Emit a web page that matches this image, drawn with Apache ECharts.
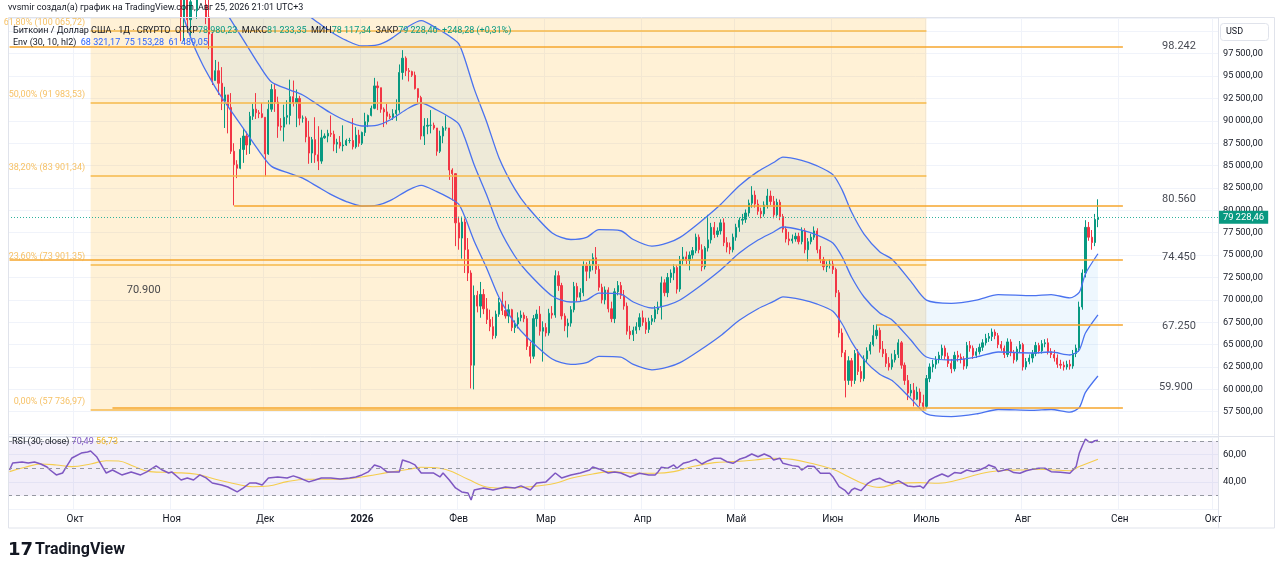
<!DOCTYPE html>
<html><head><meta charset="utf-8">
<script src="https://cdn.jsdelivr.net/npm/echarts@6/dist/echarts.min.js"></script>
<style>html,body{margin:0;padding:0;background:#fff;}#chart{width:1280px;height:573px;}</style>
</head><body><div id="chart"></div>
<script>
// ---------- axis range & tick labels ----------
const AXIS_START = '2025-09-10';
const AXIS_END = '2026-10-02';
const monthNames = ['2026','Фев','Мар','Апр','Май','Июн','Июль','Авг','Сен','Окт','Ноя','Дек'];

// ---------- daily candles (USD thousands) [open, close, low, high], consecutive days from candleStart ----------
const candleStart = '2025-11-03';
const candles = [
// Nov 3-30
[110.6,106.5,105.3,110.8],[106.5,101.5,98.9,106.6],[101.5,103.9,98.9,104.5],[103.9,101.3,100.3,104.2],[101.3,103.3,99.3,104.0],
[103.3,102.3,101.5,103.6],[102.3,104.7,101.4,105.0],[104.7,105.9,104.3,106.6],[105.9,103.0,102.5,107.4],[103.0,101.6,100.8,105.3],
[101.6,99.7,98.0,104.0],[99.7,94.5,94.0,99.9],[94.5,95.6,94.5,96.8],[95.6,94.2,92.9,96.6],[94.2,92.2,91.2,96.0],
[92.2,92.9,89.2,93.8],[92.9,91.5,88.6,92.9],[91.5,86.6,86.3,93.1],[86.6,85.1,80.56,87.5],[85.1,84.7,83.6,85.6],
[84.7,86.8,84.6,88.1],[86.8,88.3,85.3,89.2],[88.3,87.3,86.2,88.8],[87.3,90.5,86.3,91.0],[90.5,91.3,90.1,91.9],
[91.3,90.9,90.2,93.1],[90.9,90.8,90.3,91.2],[90.8,90.4,90.3,92.0],
// Dec
[90.4,86.3,83.8,90.4],[86.3,91.3,86.2,92.3],[91.3,93.5,91.0,94.1],[93.5,92.1,91.0,94.1],[92.1,89.4,88.1,92.7],
[89.4,89.3,88.9,90.3],[89.3,90.4,87.7,91.8],[90.4,90.6,89.6,92.3],[90.6,92.7,89.6,94.6],[92.7,92.0,91.6,94.5],
[92.0,92.5,89.3,93.5],[92.5,90.3,89.5,92.8],[90.3,90.3,89.8,90.6],[90.3,88.2,87.6,90.5],[88.2,86.4,85.2,90.0],
[86.4,87.9,85.3,88.2],[87.9,86.2,85.3,90.4],[86.2,85.5,84.5,89.4],[85.5,88.1,85.2,89.0],[88.1,88.3,88.0,88.6],
[88.3,88.6,87.6,89.0],[88.6,88.5,88.2,90.6],[88.5,87.4,86.6,88.9],[87.4,87.6,86.4,88.0],[87.6,87.2,86.9,88.3],
[87.2,87.3,86.6,89.5],[87.3,87.8,87.2,88.0],[87.8,87.8,87.5,88.1],[87.8,87.1,86.8,90.3],[87.1,88.4,86.9,89.3],
[88.4,87.5,87.1,89.0],
// Jan
[87.5,88.7,87.3,88.8],[88.7,89.9,88.3,90.9],[89.9,90.6,89.3,90.7],[90.6,91.4,90.5,91.7],[91.4,93.9,91.3,94.8],
[93.9,93.7,91.2,94.4],[93.7,91.3,90.9,93.7],[91.3,91.0,89.3,91.5],[91.0,90.5,89.6,91.9],[90.5,90.4,90.2,90.8],
[90.4,90.8,90.1,91.3],[90.8,91.2,90.0,92.4],[91.2,95.4,90.9,96.3],[95.4,97.0,94.6,97.9],[97.0,95.6,95.0,97.2],
[95.6,95.5,94.4,95.9],[95.5,95.1,94.9,95.6],[95.1,93.6,93.5,95.5],[93.6,92.6,91.9,93.6],[92.6,88.3,87.9,92.8],
[88.3,89.4,87.3,90.3],[89.4,89.5,88.5,90.3],[89.5,89.5,88.6,91.2],[89.5,89.2,89.0,89.8],[89.2,86.6,86.1,89.2],
[86.6,88.3,86.4,88.9],[88.3,89.2,87.5,89.4],[89.2,89.2,88.9,90.6],[89.2,84.5,83.4,89.2],[84.5,84.1,81.1,84.7],
[84.1,78.6,76.0,84.1],
// Feb
[78.6,76.9,75.6,79.3],[76.9,78.7,74.6,79.3],[78.7,75.6,73.0,79.1],[75.6,73.0,72.1,76.9],[73.0,62.7,60.1,73.3],
[62.7,70.5,60.0,71.6],[70.5,69.3,68.6,71.0],[69.3,70.6,68.0,72.0],[70.6,69.0,68.4,71.2],[69.0,67.8,67.3,70.2],
[67.8,67.0,66.5,68.9],[67.0,66.0,65.6,68.1],[66.0,68.4,65.7,68.8],[68.4,69.7,68.1,70.2],[69.7,68.8,68.3,70.9],
[68.8,68.2,67.9,69.9],[68.2,68.9,67.4,69.5],[68.9,66.9,66.5,69.0],[66.9,67.3,66.3,67.7],[67.3,68.0,66.8,68.6],
[68.0,68.3,67.6,68.8],[68.3,67.9,67.5,68.6],[67.9,64.8,64.4,68.2],[64.8,63.7,62.9,65.3],[63.7,67.9,63.4,68.3],
[67.9,68.4,67.0,68.9],[68.4,66.5,66.0,69.3],[66.5,66.9,63.1,67.6],
// Mar
[66.9,66.3,65.9,67.4],[66.3,68.5,66.0,69.0],[68.5,68.3,67.9,69.3],[68.3,72.7,68.0,73.3],[72.7,71.6,71.0,73.2],
[71.6,68.2,67.8,71.9],[68.2,67.1,66.5,68.5],[67.1,67.4,65.8,67.9],[67.4,68.9,67.0,69.3],[68.9,71.5,68.6,72.0],
[71.5,70.3,69.8,71.9],[70.3,70.8,69.9,71.3],[70.8,73.8,70.4,74.3],[73.8,73.2,72.1,74.2],[73.2,73.9,72.4,74.4],
[73.9,74.7,73.3,75.2],[74.7,73.4,72.9,75.9],[73.4,71.4,71.0,74.0],[71.4,70.0,69.6,71.8],[70.0,71.1,69.5,71.5],
[71.1,69.0,68.6,71.4],[69.0,67.9,67.5,69.8],[67.9,70.9,67.4,71.3],[70.9,71.6,70.5,72.1],[71.6,70.5,70.1,72.0],
[70.5,69.3,68.9,71.1],[69.3,66.5,66.1,69.7],[66.5,66.1,65.6,67.1],[66.1,66.6,65.4,67.0],[66.6,67.0,66.2,67.5],
[67.0,68.0,66.6,68.5],
// Apr
[68.0,67.5,67.1,68.8],[67.5,66.7,66.2,68.0],[66.7,67.6,66.3,68.0],[67.6,67.9,67.2,68.3],[67.9,68.9,67.5,69.3],
[68.9,69.2,68.4,69.8],[69.2,71.9,67.8,72.6],[71.9,70.8,70.4,72.3],[70.8,72.5,70.3,73.0],[72.5,73.0,71.9,73.4],
[73.0,73.6,72.2,74.0],[73.6,71.2,70.7,73.9],[71.2,74.4,70.9,74.9],[74.4,74.8,73.9,75.9],[74.8,74.4,74.0,75.4],
[74.4,75.0,73.3,75.4],[75.0,75.5,74.6,75.9],[75.5,77.0,75.2,77.4],[77.0,75.6,75.2,77.3],[75.6,73.7,73.2,76.2],
[73.7,75.8,73.4,76.0],[75.8,76.7,75.4,79.5],[76.7,78.1,76.3,78.6],[78.1,77.3,76.9,78.7],[77.3,77.7,77.0,78.1],
[77.7,78.6,77.3,79.0],[78.6,76.4,76.0,79.1],[76.4,75.9,75.3,77.0],[75.9,75.6,75.1,76.4],[75.6,77.0,75.3,77.4],
// May
[77.0,78.1,76.6,78.5],[78.1,78.9,77.6,79.2],[78.9,79.0,78.4,79.6],[79.0,79.7,78.6,80.1],[79.7,80.8,79.3,81.2],
[80.8,81.7,80.3,82.7],[81.7,80.7,80.3,82.2],[80.7,79.9,79.5,81.2],[79.9,79.6,79.1,80.3],[79.6,80.6,79.3,81.0],
[80.6,81.6,80.2,82.4],[81.6,81.0,80.6,82.2],[81.0,79.5,79.1,81.6],[79.5,80.9,79.3,81.3],[80.9,79.3,78.9,81.2],
[79.3,77.9,77.5,79.6],[77.9,76.8,76.4,78.2],[76.8,76.6,76.1,77.6],[76.6,76.8,76.3,77.3],[76.8,77.1,76.5,77.5],
[77.1,76.5,76.2,77.5],[76.5,77.7,76.2,78.1],[77.7,75.6,75.2,78.0],[75.6,76.5,74.3,76.9],[76.5,77.0,76.2,77.4],
[77.0,77.7,76.7,78.2],[77.7,75.6,75.2,78.0],[75.6,74.5,74.1,76.0],[74.5,73.7,73.3,74.8],[73.7,73.9,73.1,74.3],
[73.9,74.0,73.5,74.5],
// Jun
[74.0,73.4,72.9,74.4],[73.4,70.8,70.3,73.6],[70.8,66.3,65.8,71.1],[66.3,64.1,63.6,66.8],[64.1,61.0,59.1,64.4],
[61.0,63.2,60.5,63.7],[63.2,61.0,60.3,63.5],[61.0,64.0,60.6,64.4],[64.0,62.0,61.6,64.5],[62.0,61.2,60.8,62.6],
[61.2,63.4,60.9,63.8],[63.4,64.3,63.0,64.7],[64.3,65.0,63.9,65.3],[65.0,66.0,64.8,67.2],[66.0,66.6,65.6,67.25],
[66.6,64.5,64.1,66.9],[64.5,64.0,63.6,65.4],[64.0,62.9,62.5,64.5],[62.9,62.5,62.1,63.6],[62.5,63.3,62.2,64.0],
[63.3,63.9,63.0,64.4],[63.9,65.2,63.5,65.6],[65.2,62.7,62.3,65.4],[62.7,61.0,60.5,63.0],[61.0,59.6,58.8,61.6],
[59.6,59.9,59.2,60.6],[59.9,58.9,58.1,60.7],[58.9,59.7,58.8,60.3],[59.7,58.5,58.1,60.1],[58.5,58.1,57.74,59.4],
// Jul
[58.1,61.2,57.9,61.6],[61.2,62.5,60.8,62.9],[62.5,62.8,61.9,63.3],[62.8,63.3,62.3,63.7],[63.3,63.8,62.9,64.2],
[63.8,64.6,63.4,65.0],[64.6,63.7,63.3,64.9],[63.7,62.9,62.5,64.1],[62.9,62.3,61.8,63.4],[62.3,63.8,62.0,64.2],
[63.8,63.6,63.1,64.3],[63.6,63.4,62.9,64.0],[63.4,62.6,62.2,63.7],[62.6,64.9,62.3,65.3],[64.9,64.6,64.2,65.4],
[64.6,63.8,63.4,64.9],[63.8,64.2,63.5,64.6],[64.2,64.7,63.9,65.1],[64.7,65.2,64.3,65.6],[65.2,65.7,64.9,66.2],
[65.7,65.9,65.3,66.3],[65.9,66.4,65.4,66.8],[66.4,66.0,65.6,66.7],[66.0,65.0,64.6,66.3],[65.0,64.6,64.3,65.4],
[64.6,63.9,63.5,64.9],[63.9,65.3,63.6,65.7],[65.3,64.1,63.7,65.6],[64.1,63.3,62.9,64.4],[63.3,64.5,63.1,64.8],
[64.5,65.0,64.1,65.4],
// Aug 1-25
[65.0,62.5,62.1,65.2],[62.5,63.1,62.2,63.5],[63.1,63.5,62.8,63.9],[63.5,64.0,63.0,64.4],[64.0,64.9,63.7,65.3],
[64.9,64.3,64.0,65.2],[64.3,65.1,64.0,65.5],[65.1,65.2,64.7,65.6],[65.2,64.2,63.9,65.7],[64.2,63.9,63.5,64.6],
[63.9,63.5,63.1,64.4],[63.5,62.8,62.4,63.9],[62.8,62.7,62.3,63.3],[62.7,62.5,62.1,63.1],[62.5,62.8,62.2,63.2],
[62.8,62.6,62.2,63.3],[62.6,64.0,62.3,64.4],[64.0,64.6,63.6,65.0],[64.6,69.2,64.2,69.8],[69.2,73.0,68.9,73.4],
[73.0,78.1,72.5,78.9],[78.1,77.0,76.6,78.7],[77.0,76.4,75.6,77.8],[76.4,78.98,76.0,79.6],[78.98,79.228,78.117,81.233]
];
const lastClose = 79.22846;

// ---------- Envelope (30, 10, hl2), USD thousands ----------
const envDates = ['2025-11-03','2025-11-05','2025-11-08','2025-11-11','2025-11-14','2025-11-16','2025-11-25','2025-11-29','2025-12-03','2025-12-09','2025-12-13','2025-12-18','2025-12-22','2025-12-27','2026-01-01','2026-01-06','2026-01-10','2026-01-16','2026-01-20','2026-01-25','2026-01-29','2026-02-01','2026-02-03','2026-02-06','2026-02-10','2026-02-14','2026-02-19','2026-02-23','2026-03-03','2026-03-09','2026-03-14','2026-03-18','2026-03-25','2026-03-29','2026-04-04','2026-04-09','2026-04-13','2026-04-19','2026-04-26','2026-05-02','2026-05-08','2026-05-13','2026-05-16','2026-05-22','2026-05-27','2026-06-01','2026-06-04','2026-06-07','2026-06-11','2026-06-16','2026-06-20','2026-06-26','2026-07-01','2026-07-09','2026-07-17','2026-07-24','2026-08-04','2026-08-10','2026-08-16','2026-08-19','2026-08-21','2026-08-25'];
const envMid = [115.0,112.6,109.4,106.9,104.8,103.5,98.47,96.24,94.34,93.44,92.89,91.77,90.87,89.98,89.42,89.53,90.09,91.43,91.99,91.21,90.43,89.65,88.08,85.06,81.71,78.03,74.90,73.11,70.43,69.76,69.98,70.76,70.65,69.76,69.09,69.42,69.98,71.43,73.33,75.23,76.68,77.58,78.14,77.80,77.24,76.35,74.78,72.55,70.32,68.53,67.75,65.51,63.61,63.28,63.61,64.17,64.06,64.17,63.84,64.39,66.29,68.32];
const envUpper = [126.5,123.86,120.34,117.59,115.28,113.85,108.32,105.86,103.77,102.78,102.18,100.95,99.96,98.98,98.36,98.48,99.10,100.57,101.19,100.33,99.47,98.62,96.89,93.57,89.88,85.83,82.39,80.42,77.47,76.74,76.98,77.84,77.72,76.74,76.00,76.36,76.98,78.57,80.66,82.75,84.35,85.34,85.95,85.58,84.96,83.99,82.26,79.81,77.35,75.38,74.53,72.06,69.97,69.61,69.97,70.59,70.47,70.59,70.22,70.83,72.92,75.15];
const envLower = [103.5,101.34,98.46,96.21,94.32,93.15,88.62,86.62,84.91,84.10,83.60,82.59,81.78,80.98,80.48,80.58,81.08,82.29,82.79,82.09,81.39,80.69,79.27,76.55,73.54,70.23,67.41,65.80,63.39,62.78,62.98,63.68,63.59,62.78,62.18,62.48,62.98,64.29,66.00,67.71,69.01,69.82,70.33,70.02,69.52,68.72,67.30,65.30,63.29,61.68,60.98,58.96,57.25,56.95,57.25,57.75,57.65,57.75,57.46,57.95,59.66,61.49];

// ---------- RSI (30) and its MA ----------
const rsiPoints = [['2025-09-10',48.8],['2025-09-11',53.9],['2025-09-14',54.7],['2025-09-16',53.9],['2025-09-18',54.7],['2025-09-20',53.2],['2025-09-22',51.0],['2025-09-23',48.8],['2025-09-25',45.2],['2025-09-27',46.6],['2025-09-28',50.3],['2025-09-30',57.6],['2025-10-03',61.2],['2025-10-05',62.0],['2025-10-06',62.7],['2025-10-08',58.3],['2025-10-10',50.3],['2025-10-11',46.6],['2025-10-13',48.8],['2025-10-16',45.2],['2025-10-19',47.4],['2025-10-22',45.2],['2025-10-24',47.4],['2025-10-27',51.8],['2025-10-29',48.8],['2025-10-31',46.6],['2025-11-01',47.4],['2025-11-04',41.5],['2025-11-06',43.0],['2025-11-08',41.5],['2025-11-10',45.2],['2025-11-12',43.0],['2025-11-14',39.3],['2025-11-17',37.9],['2025-11-19',36.4],['2025-11-22',32.8],['2025-11-24',35.7],['2025-11-26',39.3],['2025-11-28',39.3],['2025-11-30',37.9],['2025-12-02',43.0],['2025-12-05',43.7],['2025-12-08',43.0],['2025-12-10',44.5],['2025-12-12',43.0],['2025-12-15',40.1],['2025-12-17',41.5],['2025-12-19',43.0],['2025-12-22',43.0],['2025-12-25',42.3],['2025-12-28',43.0],['2025-12-30',43.7],['2026-01-01',45.2],['2026-01-03',47.4],['2026-01-05',52.5],['2026-01-07',51.0],['2026-01-09',47.4],['2026-01-13',47.4],['2026-01-14',56.1],['2026-01-16',54.7],['2026-01-18',52.5],['2026-01-20',46.6],['2026-01-24',46.6],['2026-01-26',43.7],['2026-01-27',46.6],['2026-01-29',41.5],['2026-01-31',35.7],['2026-02-02',32.8],['2026-02-04',32.0],['2026-02-05',26.9],['2026-02-06',34.2],['2026-02-09',35.7],['2026-02-12',34.2],['2026-02-16',36.4],['2026-02-19',35.7],['2026-02-21',37.2],['2026-02-24',34.2],['2026-02-26',39.3],['2026-03-01',40.1],['2026-03-04',46.6],['2026-03-06',43.0],['2026-03-09',45.2],['2026-03-12',46.6],['2026-03-15',48.8],['2026-03-16',51.0],['2026-03-18',49.6],['2026-03-21',46.6],['2026-03-23',47.4],['2026-03-25',46.6],['2026-03-28',43.7],['2026-03-31',46.4],['2026-04-03',45.2],['2026-04-05',45.2],['2026-04-06',47.6],['2026-04-07',50.8],['2026-04-09',50.1],['2026-04-11',52.5],['2026-04-12',50.1],['2026-04-14',53.7],['2026-04-16',54.9],['2026-04-18',56.6],['2026-04-20',53.2],['2026-04-22',55.6],['2026-04-24',57.4],['2026-04-26',57.4],['2026-04-28',54.9],['2026-04-30',53.7],['2026-05-02',56.6],['2026-05-04',58.1],['2026-05-06',60.5],['2026-05-08',58.5],['2026-05-10',60.5],['2026-05-12',58.5],['2026-05-13',56.1],['2026-05-15',57.4],['2026-05-16',53.7],['2026-05-19',52.0],['2026-05-21',51.3],['2026-05-22',48.8],['2026-05-24',51.8],['2026-05-26',51.3],['2026-05-28',46.4],['2026-05-31',46.4],['2026-06-01',43.9],['2026-06-03',36.6],['2026-06-05',33.7],['2026-06-06',31.1],['2026-06-07',34.2],['2026-06-08',35.5],['2026-06-10',33.7],['2026-06-12',38.6],['2026-06-14',41.5],['2026-06-16',42.8],['2026-06-18',40.3],['2026-06-20',39.1],['2026-06-22',41.0],['2026-06-25',37.1],['2026-06-27',36.6],['2026-06-29',37.1],['2026-06-30',35.5],['2026-07-02',41.5],['2026-07-04',43.9],['2026-07-06',45.9],['2026-07-08',43.9],['2026-07-10',46.9],['2026-07-12',46.4],['2026-07-14',48.8],['2026-07-16',47.6],['2026-07-18',48.8],['2026-07-20',50.8],['2026-07-21',52.5],['2026-07-23',50.8],['2026-07-24',47.6],['2026-07-27',49.3],['2026-07-29',46.9],['2026-07-31',46.4],['2026-08-02',48.3],['2026-08-04',49.3],['2026-08-06',50.1],['2026-08-08',50.1],['2026-08-10',47.6],['2026-08-13',47.2],['2026-08-16',46.4],['2026-08-17',48.8],['2026-08-18',51.3],['2026-08-19',61.0],['2026-08-20',66.5],['2026-08-21',71.5],['2026-08-22',69.5],['2026-08-23',68.9],['2026-08-24',70.2],['2026-08-25',70.49]];
const rsiMaPoints = [['2025-09-10',47.6],['2025-09-15',50.8],['2025-09-20',53.2],['2025-09-25',52.5],['2025-09-30',51.3],['2025-10-06',53.2],['2025-10-11',55.6],['2025-10-15',55.4],['2025-10-20',51.3],['2025-10-25',47.6],['2025-11-02',46.9],['2025-11-09',45.7],['2025-11-15',42.0],['2025-11-22',38.4],['2025-11-27',36.6],['2025-12-02',37.1],['2025-12-08',40.3],['2025-12-14',42.0],['2025-12-21',42.0],['2025-12-27',42.3],['2026-01-03',44.5],['2026-01-09',46.9],['2026-01-16',49.3],['2026-01-20',50.8],['2026-01-26',50.1],['2026-01-30',47.6],['2026-02-04',42.0],['2026-02-11',36.0],['2026-02-16',35.5],['2026-02-24',36.6],['2026-03-04',39.1],['2026-03-09',42.8],['2026-03-16',45.9],['2026-03-22',47.6],['2026-03-30',46.4],['2026-04-05',46.4],['2026-04-11',47.6],['2026-04-17',51.3],['2026-04-24',54.2],['2026-04-30',54.9],['2026-05-07',56.1],['2026-05-13',57.4],['2026-05-19',56.6],['2026-05-25',53.7],['2026-06-01',49.3],['2026-06-06',43.9],['2026-06-11',38.6],['2026-06-16',36.1],['2026-06-22',39.1],['2026-06-29',39.6],['2026-07-05',39.1],['2026-07-11',41.5],['2026-07-18',45.9],['2026-07-24',48.3],['2026-07-31',48.8],['2026-08-06',49.3],['2026-08-16',48.3],['2026-08-19',51.3],['2026-08-25',56.73]];
const rsiBands = [70, 50, 30];

// ---------- drawings ----------
const fibStart = '2025-10-06', fibEnd = '2026-07-01';
const fibLevels = [['61,80% (100 065,72)',100.06572],['50,00% (91 983,53)',91.98353],['38,20% (83 901,34)',83.90134],['23,60% (73 901,35)',73.90135],['0,00% (57 736,97)',57.73697]];
const hLines = [['2025-09-10','2026-09-02',98.242],['2025-11-21','2026-09-02',80.56],['2025-09-10','2026-09-02',74.45],['2026-06-15','2026-09-02',67.25],['2025-10-13','2026-09-02',57.93]];
const trendLine = [['2026-01-08',101.8],['2026-06-30',57.95]];
const notes = [['98.242','2026-09-20',98.36],['80.560','2026-09-20',81.27],['74.450','2026-09-20',74.79],['67.250','2026-09-20',67.08],['59.900','2026-09-19',60.26],['70.900','2025-10-23',71.10]];

// ---------- build ----------
const DAY = 86400000;
const iso = t => new Date(t).toISOString().slice(0,10);
const categories = [];
for (let t = Date.parse(AXIS_START+'T00:00:00Z'); t <= Date.parse(AXIS_END+'T00:00:00Z'); t += DAY) categories.push(iso(t));
const catIndex = {}; categories.forEach((d,i)=>catIndex[d]=i);
const xi = d => catIndex[d];
const c0 = xi(candleStart);
const candleData = categories.map((d,i)=> (i>=c0 && i-c0<candles.length) ? candles[i-c0] : '-');

function fmtNum(v, dec){ const s=v.toFixed(dec); let [a,b]=s.split('.'); a=a.replace(/\B(?=(\d{3})+(?!\d))/g,'\u2009'); return b!==undefined? a+','+b : a; }
const isMonthStart = (idx, val) => typeof val==='string' ? val.slice(8)==='01' : (categories[idx]||'').slice(8)==='01';

const FONT = 'Roboto, "Noto Sans", sans-serif';
const TXT = '#131722';
const UP='#089981', DN='#f23645', ENV='#4a72ef';
const CLEAR='rgba(0,0,0,0)';
const FIB_LINE = {color:'#f6b84a', width:1.5, type:'solid'};
const USER_LINE = {color:'#f6a62c', width:1.6, type:'solid'};
const TREND_LINE = {color:'#a9abb3', width:1, type:[4,4]};

const envLine = (arr,name)=>({type:'line', name, xAxisIndex:0, yAxisIndex:0, data:envDates.map((d,i)=>[xi(d),arr[i]]), symbol:'none', smooth:0.25, lineStyle:{color:ENV,width:1.3}, z:4, clip:true, silent:true});

const drawingLines = []
  .concat(fibLevels.map(l=>[{coord:[xi(fibStart),l[1]], lineStyle:FIB_LINE},{coord:[xi(fibEnd),l[1]]}]))
  .concat(hLines.map(h=>[{coord:[xi(h[0]),h[2]], lineStyle:USER_LINE},{coord:[xi(h[1]),h[2]]}]))
  .concat([[{coord:[xi(trendLine[0][0]),trendLine[0][1]], lineStyle:TREND_LINE},{coord:[xi(trendLine[1][0]),trendLine[1][1]]}]]);

const option = {
  animation:false,
  backgroundColor:'#ffffff',
  textStyle:{fontFamily:FONT},
  grid:[{left:8, top:18, width:1210, height:416.1},{left:8, top:436.9, width:1210, height:72.5}],
  xAxis:[
    {type:'category', gridIndex:0, data:categories, boundaryGap:true, axisLine:{show:false}, axisTick:{show:false}, axisLabel:{show:false},
     splitLine:{show:true, interval:isMonthStart, lineStyle:{color:'#f0f3fa',width:1}}},
    {type:'category', gridIndex:1, data:categories, boundaryGap:true, axisLine:{show:false}, axisTick:{show:false},
     axisLabel:{show:true, interval:isMonthStart, margin:5, color:TXT, fontSize:10, fontFamily:FONT,
       formatter:v=>{const m=+v.slice(5,7); return m===1?'{b|2026}':monthNames[m-1];}, rich:{b:{fontWeight:'bold',fontSize:10,color:TXT,fontFamily:FONT}}},
     splitLine:{show:true, interval:isMonthStart, lineStyle:{color:'#f0f3fa',width:1}}}
  ],
  yAxis:[
    {type:'value', gridIndex:0, position:'right', min:55, max:101.489, interval:2.5, axisLine:{show:false}, axisTick:{show:false},
     splitLine:{show:true, lineStyle:{color:'#f0f3fa'}},
     axisLabel:{margin:5, color:TXT, fontSize:9.2, fontFamily:FONT, align:'left',
       formatter:v=>{ if(v<57.4||v>97.6) return ''; if(Math.abs(v/2.5-Math.round(v/2.5))>1e-6) return ''; return fmtNum(v*1000,2);} }},
    {type:'value', gridIndex:1, position:'right', min:20, max:73, interval:20, axisLine:{show:false}, axisTick:{show:false},
     splitLine:{show:true, lineStyle:{color:'#f0f3fa'}},
     axisLabel:{margin:5, color:TXT, fontSize:9.5, fontFamily:FONT, align:'left',
       formatter:v=> (Math.abs(v-40)<1e-6||Math.abs(v-60)<1e-6) ? v.toFixed(2).replace('.',',') : ''}}
  ],
  series:[
    // envelope fill
    {type:'custom', xAxisIndex:0, yAxisIndex:0, z:1, clip:true, silent:true, data:[[xi(envDates[0]),60]],
     renderItem:(params, api)=>{
       const pts=[];
       envDates.forEach((d,i)=>pts.push(api.coord([xi(d),envUpper[i]])));
       for(let i=envDates.length-1;i>=0;i--) pts.push(api.coord([xi(envDates[i]),envLower[i]]));
       return {type:'polygon', shape:{points:pts}, style:{fill:'rgba(33,150,243,0.08)'}, silent:true};
     }},
    // candles
    {type:'candlestick', name:'BTC', xAxisIndex:0, yAxisIndex:0, data:candleData, barWidth:1.7, clip:true, z:2, silent:true,
     itemStyle:{color:UP, color0:DN, borderColor:UP, borderColor0:DN, borderWidth:1}},
    // fibonacci box fill (drawn above candles, translucent)
    {type:'line', xAxisIndex:0, yAxisIndex:0, data:[], z:3, silent:true,
     markArea:{silent:true, itemStyle:{color:'rgba(255,185,50,0.2)'}, data:[[{coord:[xi(fibStart),fibLevels[fibLevels.length-1][1]]},{coord:[xi(fibEnd),101.489]}]]}},
    // envelope lines
    envLine(envUpper,'Upper'), envLine(envMid,'Basis'), envLine(envLower,'Lower'),
    // fib levels, user horizontal lines and trend line
    {type:'line', xAxisIndex:0, yAxisIndex:0, data:[], z:5, silent:true, color:'#f5b440',
     markLine:{silent:true, symbol:'none', label:{show:false}, lineStyle:USER_LINE, data:drawingLines}},
    // last price line + tag
    {type:'line', xAxisIndex:0, yAxisIndex:0, data:[], z:6, silent:true,
     markLine:{silent:true, symbol:'none', lineStyle:{color:'#2fb29c',width:1,type:[1,2]},
       label:{show:true, position:'end', distance:1, formatter:fmtNum(lastClose*1000,2), backgroundColor:UP, color:'#fff', fontSize:9.5, fontFamily:FONT, padding:[2,4,1,4]},
       data:[{yAxis:lastClose}]}},
    // text notes
    {type:'scatter', xAxisIndex:0, yAxisIndex:0, z:7, silent:true, symbolSize:1, itemStyle:{color:CLEAR},
     data:notes.map(n=>({name:n[0], value:[xi(n[1]),n[2]]})),
     label:{show:true, position:'inside', formatter:p=>p.name, color:TXT, fontSize:11, fontFamily:FONT}},
    // fib labels
    {type:'scatter', xAxisIndex:0, yAxisIndex:0, z:7, silent:true, symbolSize:1, itemStyle:{color:CLEAR},
     data:fibLevels.map(l=>({name:l[0], value:[xi(fibStart),l[1]]})),
     label:{show:true, position:'left', distance:5, offset:[0,-8], formatter:p=>p.name, color:'#f4b23e', fontSize:9, fontFamily:FONT}},
    // RSI
    {type:'line', name:'RSI', xAxisIndex:1, yAxisIndex:1, data:rsiPoints.map(p=>[xi(p[0]),p[1]]), symbol:'none', z:4, silent:true,
     lineStyle:{color:'#7e57c2',width:1.5},
     markArea:{silent:true, itemStyle:{color:'rgba(126,87,194,0.1)'}, data:[[{yAxis:rsiBands[2]},{yAxis:rsiBands[0]}]]},
     markLine:{silent:true, symbol:'none', label:{show:false}, lineStyle:{color:'#9598a1',width:1,type:[4,4]}, data:rsiBands.map(b=>({yAxis:b}))}},
    {type:'line', name:'RSI MA', xAxisIndex:1, yAxisIndex:1, data:rsiMaPoints.map(p=>[xi(p[0]),p[1]]), symbol:'none', smooth:0.4, z:3, silent:true,
     lineStyle:{color:'#f5cd4c',width:1.1}}
  ],
  graphic:[
    {type:'rect', z:50, silent:true, shape:{x:8.5,y:17.5,width:1266,height:510.5}, style:{fill:'none',stroke:'#e0e3eb',lineWidth:1}},
    {type:'line', z:50, silent:true, shape:{x1:8,y1:436.5,x2:1275,y2:436.5}, style:{stroke:'#e0e3eb',lineWidth:1}},
    {type:'line', z:50, silent:true, shape:{x1:1218.5,y1:17.5,x2:1218.5,y2:528}, style:{stroke:'#e0e3eb',lineWidth:1}},
    {type:'rect', z:60, silent:true, shape:{x:1220.5,y:23.5,width:48,height:17,r:3}, style:{fill:'#fff',stroke:'#e0e3eb',lineWidth:1}},
    {type:'text', z:61, silent:true, left:1226, top:27, style:{text:'USD', font:'9px '+FONT, fill:TXT}},
    {type:'text', z:100, silent:true, left:8, top:3, style:{text:'vvsmir создал(а) график на TradingView.com, Авг 25, 2026 21:01 UTC+3', font:'9px '+FONT, fill:TXT}},
    {type:'text', z:100, silent:true, left:13, top:26, style:{
      text:'{a|Биткоин / Доллар США · 1Д · CRYPTO}  {a|ОТКР}{g|78 980,23}  {a|МАКС}{g|81 233,35}  {a|МИН}{g|78 117,34}  {a|ЗАКР}{g|79 228,46}  {g|+248,28 (+0,31%)}',
      font:'9px '+FONT, rich:{a:{fill:TXT,font:'9px '+FONT}, g:{fill:UP,font:'9px '+FONT}}}},
    {type:'text', z:100, silent:true, left:13, top:38, style:{
      text:'{a|Env (30, 10, hl2)}  {b|68 321,17}  {b|75 153,28}  {b|61 489,05}',
      font:'9px '+FONT, rich:{a:{fill:TXT,font:'9px '+FONT}, b:{fill:'#2962ff',font:'9px '+FONT}}}},
    {type:'text', z:100, silent:true, left:12, top:437, style:{
      text:'{a|RSI (30; close)} {p|70,49} {y|56,73}',
      font:'9px '+FONT, rich:{a:{fill:TXT,font:'9px '+FONT}, p:{fill:'#7e57c2',font:'9px '+FONT}, y:{fill:'#f0b92b',font:'9px '+FONT}}}},
    {type:'text', z:100, silent:true, left:8, top:541, style:{text:'17', font:'bold 18px "DejaVu Sans", '+FONT, fill:TXT}},
    {type:'text', z:100, silent:true, left:35, top:542, style:{text:'TradingView', font:'bold 16px '+FONT, fill:TXT}}
  ]
};
const chart = echarts.init(document.getElementById('chart'), null, {renderer:'canvas', width:1280, height:573});
chart.setOption(option);
</script>
</body></html>
